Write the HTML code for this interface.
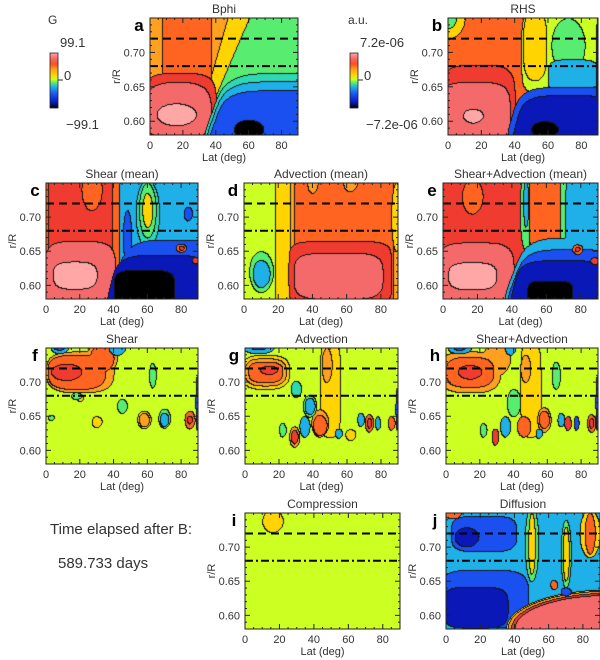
<!DOCTYPE html>
<html><head><meta charset="utf-8">
<style>
html,body{margin:0;padding:0;background:#fff;}
body{width:600px;height:660px;position:relative;overflow:hidden;font-family:"Liberation Sans",sans-serif;}
canvas{position:absolute;}
svg{position:absolute;left:0;top:0;}
</style></head>
<body>
<div id="root"></div>
<svg id="ov" width="600" height="660"></svg>
<script>
// Level colours (index -6..6), zero = yellow-green
const levelColors = ["#000000","#0a18b8","#1a50f0","#1eb0e6","#2ed8b4","#58ec70","#ccff22","#ffd400","#ffa020","#ff6420","#f03c30","#f46a6a","#ffa6a6"];
const latTicks = [0,20,40,60,80];
const rTicks = [0.60,0.65,0.70];
const latRange = [0,90];
const rRange = [0.58,0.75];
const dashedR = 0.72;
const dashDotR = 0.68;
// contour regions (painted in order): [lat, r, level, latHalfWidth, rHalfWidth, power, skew]
const bphiRegions = [[79,0.665,1,42,0.2,8,1.2],[81,0.665,-1,36,0.2,8,1.8],[22,0.72,3,15,0.12,4],[18,0.62,4,22,0.05,4],[17,0.615,5,20,0.042,3],[16,0.61,6,12,0.016,2],[72,0.61,-2,35,0.06,4,1.5],[72,0.605,-3,34,0.053,4,1.5],[72,0.598,-4,33,0.047,4,1.5],[60,0.588,-6,9,0.014,2]];
const rhsRegions = [[0,0.75,1,10,0.03,2],[0,0.75,-1,5,0.015,2],[18,0.625,4,22,0.057,4],[16,0.612,5,21,0.045,4],[15,0.608,6,6,0.01,2],[70,0.70,0,26,0.06,6],[52,0.71,1,7,0.05,3],[72,0.71,-1,10,0.04,2],[75,0.665,-3,15,0.025,4],[68,0.605,-4,30,0.045,4,1.2],[68,0.6,-5,27,0.038,4,1.2],[58,0.588,-6,8,0.012,2],[90,0.66,-5,1.5,0.1,2]];
const shearMeanRegions = [[20,0.68,4,19,0.12,6],[27,0.74,3,6,0.03,2],[20,0.615,5,21,0.05,4],[17,0.615,6,13,0.02,3],[70,0.665,-3,27,0.1,10],[60,0.705,-2,7,0.05,2],[60,0.71,-1,5,0.04,2],[60,0.71,1,3,0.025,2],[84,0.705,-4,2.5,0.01,2],[48,0.67,-4,2.5,0.04,2],[68,0.615,-4,27,0.052,4,1.5],[65,0.6,-5,27,0.045,4,1],[58,0.595,-6,18,0.028,4],[80,0.655,3,3,0.006,2],[80,0.655,4,1.5,0.003,2],[89,0.637,4,2.5,0.005,2]];
const advMeanRegions = [[60,0.68,1,42,0.2,8],[62,0.68,2,35,0.2,8],[58,0.68,3,29,0.2,8],[40,0.75,2,3,0.015,2],[62,0.75,2,4,0.012,2],[89,0.70,1,3,0.05,2],[56,0.617,4,30,0.048,6],[55,0.614,5,26,0.034,4],[10,0.62,-1,7,0.03,2],[10,0.617,-3,5,0.02,2]];
const shearAdvMeanRegions = [[17,0.73,3,6,0.025,2],[19,0.615,5,22,0.048,4],[17,0.614,6,14,0.02,3],[48,0.71,-1,3.5,0.06,2],[48,0.72,-3,1.5,0.035,2],[60,0.72,3,10,0.08,6],[85,0.69,-1,17,0.1,6],[85,0.69,-3,14,0.08,6],[68,0.615,-3,28,0.055,4,1.5],[68,0.608,-4,27,0.045,4,1.5],[66,0.6,-5,25,0.037,4,1],[62,0.59,-6,13,0.017,4],[78,0.653,3,3,0.007,2],[78,0.653,4,1.5,0.003,2],[88,0.636,4,2.5,0.005,2]];
const shearRegions = [[20,0.715,2,20,0.03,3],[33,0.735,2,9,0.025,2],[18,0.715,3,17,0.025,3],[33,0.735,3,7,0.02,2],[12,0.715,4,9,0.012,2],[8,0.75,-3,5,0.008,2],[8,0.752,-4,3,0.005,2],[42,0.75,-3,5,0.01,2],[30,0.642,1,3,0.008,2],[20,0.677,1,2,0.005,2],[58,0.645,1,4,0.013,2],[58,0.645,2,3,0.01,2],[70,0.647,-1,3.5,0.014,2],[70,0.645,-3,2.5,0.01,2],[85,0.645,3,3,0.013,2],[85,0.645,4,1.5,0.006,2],[63,0.71,-1,2,0.018,2],[3,0.648,-1,2,0.004,2],[18,0.68,-1,3,0.005,2],[45,0.665,-1,3,0.01,2],[89.5,0.67,-4,1,0.04,2]];
const advRegions = [[12,0.715,1,14,0.025,3],[12,0.715,2,12,0.02,3],[12,0.715,3,10,0.015,3],[14,0.718,4,5,0.006,2],[8,0.75,-3,9,0.008,2],[8,0.752,-4,5,0.004,2],[50,0.69,1,6,0.07,4],[48,0.725,2,3,0.025,2],[44,0.64,2,5,0.02,2],[44,0.637,3,4,0.015,2],[30,0.69,-2,3,0.012,2],[38,0.665,-1,4,0.016,2],[38,0.665,-3,3,0.012,2],[22,0.63,-1,2,0.01,2],[29,0.62,2,3,0.015,2],[29,0.62,4,2,0.01,2],[35,0.635,-3,3,0.015,2],[55,0.625,-3,2,0.007,2],[62,0.623,1,3,0.008,2],[68,0.645,-3,2,0.01,2],[73,0.64,3,2.5,0.013,2],[73,0.64,4,1.3,0.007,2],[78,0.64,-3,1.5,0.01,2],[86,0.64,3,2,0.01,2],[89.5,0.66,-4,1,0.03,2]];
const shearAdvRegions = [[14,0.715,2,18,0.03,3],[30,0.735,2,8,0.025,2],[14,0.715,3,14,0.022,3],[14,0.715,4,7,0.01,2],[8,0.75,-3,7,0.008,2],[8,0.752,-4,4,0.005,2],[38,0.75,-3,3,0.01,2],[50,0.69,1,6,0.07,4],[47,0.72,2,3,0.02,2],[58,0.645,2,4,0.018,2],[58,0.645,3,3,0.013,2],[46,0.635,3,4,0.015,2],[29,0.62,4,2,0.012,2],[35,0.635,-3,3,0.015,2],[55,0.625,-3,2,0.007,2],[68,0.645,-3,2,0.01,2],[72,0.64,4,2,0.01,2],[77,0.64,-4,1.5,0.01,2],[86,0.64,3,2.5,0.013,2],[86,0.64,4,1.3,0.007,2],[22,0.63,-1,2,0.01,2],[40,0.67,-1,4,0.02,2],[65,0.71,-1,2.5,0.02,2],[89.5,0.67,-4,1,0.04,2]];
const compRegions = [[16,0.738,1,6,0.016,2]];
const diffRegions = [[22,0.72,-4,19,0.026,4],[12,0.715,-5,7,0.014,2],[22,0.625,-4,26,0.042,4],[17,0.612,-5,19,0.03,4],[95,0.58,1,60,0.058,2],[95,0.58,2,59,0.056,2],[95,0.58,4,57,0.053,2],[95,0.58,5,55,0.05,2],[50,0.705,-1,4,0.055,2],[50,0.705,1,2,0.045,2],[70,0.69,-1,3,0.05,2],[70,0.69,1,1.8,0.04,2],[84,0.72,1,6,0.035,2],[84,0.72,3,3,0.03,2],[4,0.75,3,5,0.008,2],[63,0.645,3,2,0.007,2],[70,0.635,-4,3,0.006,2]];

const panels = [
 {id:"a",title:"Bphi",x:150,y:18,w:148,h:117,bg:2,regions:bphiRegions},
 {id:"b",title:"RHS",x:448,y:18,w:150,h:117,bg:3,regions:rhsRegions},
 {id:"c",title:"Shear (mean)",x:46,y:183,w:152,h:116,bg:3,regions:shearMeanRegions},
 {id:"d",title:"Advection (mean)",x:244,y:183,w:154,h:116,bg:0,regions:advMeanRegions},
 {id:"e",title:"Shear+Advection (mean)",x:443,y:183,w:155,h:116,bg:4,regions:shearAdvMeanRegions},
 {id:"f",title:"Shear",x:46,y:348,w:152,h:116,bg:0,regions:shearRegions},
 {id:"g",title:"Advection",x:245,y:348,w:153,h:116,bg:0,regions:advRegions},
 {id:"h",title:"Shear+Advection",x:446,y:348,w:152,h:116,bg:0,regions:shearAdvRegions},
 {id:"i",title:"Compression",x:245,y:513,w:155,h:116,bg:0,regions:compRegions},
 {id:"j",title:"Diffusion",x:446,y:513,w:154,h:116,bg:-3,regions:diffRegions}
];
const NS="http://www.w3.org/2000/svg";
const ov=document.getElementById('ov');
function hex(c){return [parseInt(c.substr(1,2),16),parseInt(c.substr(3,2),16),parseInt(c.substr(5,2),16)];}
const rgb=levelColors.map(hex);
function levelAt(p,lat,r){let k=p.bg;for(const b of p.regions){const s=b[6]||0;const dl=Math.abs((lat-b[0]-s*(r-b[1])*100)/b[3]),dr=Math.abs((r-b[1])/b[4]);if(Math.pow(dl,b[5])+Math.pow(dr,b[5])<1)k=b[2];}return k;}
function mk(tag,attrs,txt){const e=document.createElementNS(NS,tag);for(const k in attrs)e.setAttribute(k,attrs[k]);if(txt!==undefined)e.textContent=txt;ov.appendChild(e);return e;}
function txt(x,y,s,size,anchor,name,extra){const t=mk('text',Object.assign({x:x,y:y,'font-size':size,'text-anchor':anchor||'start',fill:'#333','font-family':'Liberation Sans, sans-serif'},extra||{}),s);return t;}
panels.forEach(p=>{
  const cv=document.createElement('canvas');cv.width=p.w;cv.height=p.h;
  cv.style.left=p.x+'px';cv.style.top=p.y+'px';
  
  
  document.body.insertBefore(cv,ov);
  const ctx=cv.getContext('2d');const im=ctx.createImageData(p.w,p.h);
  const idx=new Int8Array(p.w*p.h);
  for(let j=0;j<p.h;j++)for(let i=0;i<p.w;i++){
    const lat=latRange[0]+(i+0.5)/p.w*(latRange[1]-latRange[0]);
    const r=rRange[1]-(j+0.5)/p.h*(rRange[1]-rRange[0]);
    let k=levelAt(p,lat,r);k=Math.max(-6,Math.min(6,k));idx[j*p.w+i]=k;}
  for(let j=0;j<p.h;j++)for(let i=0;i<p.w;i++){
    const k=idx[j*p.w+i];let c=rgb[k+6];
    const edge=(i>0&&idx[j*p.w+i-1]!==k)||(j>0&&idx[(j-1)*p.w+i]!==k);
    if(edge)c=[20,20,20];
    const o=(j*p.w+i)*4;im.data[o]=c[0];im.data[o+1]=c[1];im.data[o+2]=c[2];im.data[o+3]=255;}
  ctx.putImageData(im,0,0);
  const X=l=>p.x+(l-latRange[0])/(latRange[1]-latRange[0])*p.w;
  const Y=r=>p.y+(rRange[1]-r)/(rRange[1]-rRange[0])*p.h;
  let l1=mk('line',{x1:p.x,x2:p.x+p.w,y1:Y(dashedR),y2:Y(dashedR),stroke:'#000','stroke-width':2,'stroke-dasharray':'8,5'});
  
  let l2=mk('line',{x1:p.x,x2:p.x+p.w,y1:Y(dashDotR),y2:Y(dashDotR),stroke:'#000','stroke-width':2,'stroke-dasharray':'8,3,2,3'});
  
  let fr=mk('rect',{x:p.x,y:p.y,width:p.w,height:p.h,fill:'none',stroke:'#222','stroke-width':1});
  
  for(let l=0;l<=90;l+=5){const big=l%20===0;const L=big?5:2;const x=X(l);
    mk('line',{x1:x,x2:x,y1:p.y+p.h,y2:p.y+p.h-L,stroke:'#222'});mk('line',{x1:x,x2:x,y1:p.y,y2:p.y+L,stroke:'#222'});}
  for(let r=0.58;r<=0.7501;r+=0.01){const rr=Math.round(r*100)/100;const big=Math.abs(rr*100%5)<1e-6;const L=big?5:2;const y=Y(rr);
    mk('line',{x1:p.x,x2:p.x+L,y1:y,y2:y,stroke:'#222'});mk('line',{x1:p.x+p.w,x2:p.x+p.w-L,y1:y,y2:y,stroke:'#222'});}
  latTicks.forEach(l=>txt(X(l),p.y+p.h+14,String(l),11,'middle','x-tick-label'));
  rTicks.forEach(r=>txt(p.x-5,Y(r)+4,r.toFixed(2),11,'end','y-tick-label'));
  txt(p.x+p.w/2,p.y+p.h+26,'Lat (deg)',11,'middle','x-axis-title');
  txt(p.x-30,p.y+p.h/2,'r/R',11,'middle','y-axis-title',{transform:'rotate(-90 '+(p.x-30)+' '+(p.y+p.h/2)+')'});
  txt(p.x+p.w/2,p.y-5,p.title,12,'middle','panel-title');
  txt(p.x-11,p.y+13,p.id,17,'middle','panel-letter',{'font-weight':'bold',fill:'#000'});
});
const grad=mk('defs',{});
grad.innerHTML='<linearGradient id="cb" x1="0" y1="1" x2="0" y2="0"><stop offset="0" stop-color="#000"/><stop offset="0.1" stop-color="#0a18b8"/><stop offset="0.25" stop-color="#1a50f0"/><stop offset="0.38" stop-color="#1eb0e6"/><stop offset="0.46" stop-color="#58ec70"/><stop offset="0.52" stop-color="#ccff22"/><stop offset="0.6" stop-color="#ffd400"/><stop offset="0.7" stop-color="#ffa020"/><stop offset="0.8" stop-color="#ff5020"/><stop offset="0.9" stop-color="#f46a6a"/><stop offset="1" stop-color="#ffa6a6"/></linearGradient>';
[[50,'G','99.1','\u221299.1'],[350,'a.u.','7.2e-06','\u22127.2e-06']].forEach((c,n)=>{
  const x=c[0];
  const r=mk('rect',{x:x,y:53,width:8,height:55,fill:'url(#cb)',stroke:'#222','stroke-width':0.8});
  
  mk('line',{x1:x+8,x2:x+13,y1:80,y2:80,stroke:'#333'});
  txt(x-2,24,c[1],12,'start','colorbar-unit');
  txt(x+10,47,c[2],13,'start','colorbar-max');
  txt(x+14,80,'0',13,'start','colorbar-zero');
  txt(x+16,129,c[3],13,'start','colorbar-min');
});
txt(50,534,'Time elapsed after B:',15,'start','time-elapsed-label');
txt(58,568,'589.733 days',15,'start','time-elapsed-value');
</script>
</body></html>
